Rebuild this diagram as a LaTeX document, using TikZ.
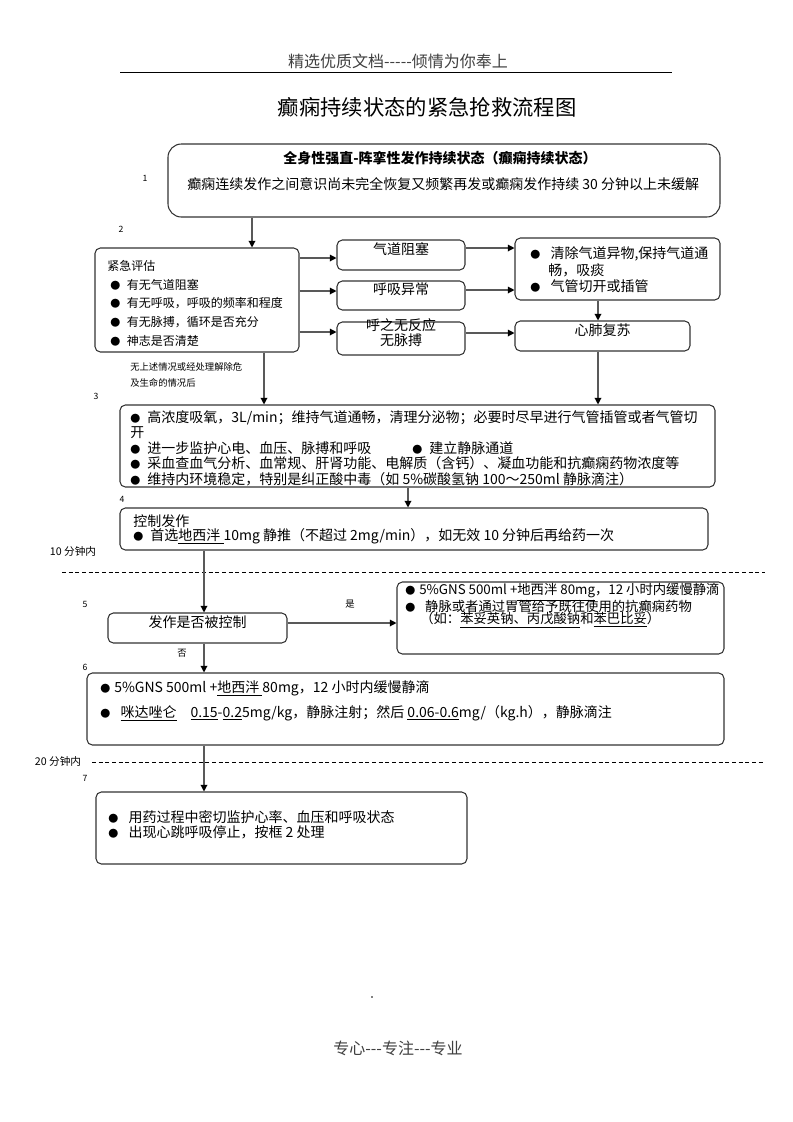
\documentclass[tikz,border=0pt]{standalone}
\usepackage{fontspec}
\setmainfont{Noto Sans CJK SC}
\usepackage{xcolor}
\usetikzlibrary{arrows.meta}
\usetikzlibrary{fit}
\newcommand\bul{{\fontsize{7.5}{8}\selectfont●}\hspace{3pt}}

\begin{document}
\begin{tikzpicture}[x=0.75pt,y=-0.75pt,
	box/.style={draw=black!80, line width=0.8pt, rounded corners=4pt, inner sep=0pt},
	arr/.style={draw=black!65, line width=0.9pt, -{Triangle[length=5pt,width=5pt,color=black]}},
	txt/.style={anchor=west, inner sep=0pt, font=\fontsize{10.5}{12}\selectfont},
	sm/.style={anchor=west, inner sep=0pt, font=\fontsize{9}{10}\selectfont},
	num/.style={inner sep=0pt, font=\fontsize{6.5}{7}\selectfont},
	tline/.style={draw=black, line width=0.6pt, dash pattern=on 3pt off 2pt}]
				\fill[white] (0,0) rectangle (793,1122);
				\useasboundingbox (0,0) rectangle (793,1122);
				\node[inner sep=0pt, text=black!75, font=\fontsize{12}{14}\selectfont] (A) at (398,61){精选优质文档-{}-{}-{}-{}-倾情为你奉上};
				\draw[black, line width=0.6pt] (120,72)--(672,72);
				\node[inner sep=0pt, font=\fontsize{16}{18}\selectfont] (B) at (427,107){癫痫持续状态的紧急抢救流程图};
				\node[box, rounded corners=10pt, fit={(168,144) (720,217)}] (b1){};
				\node[inner sep=0pt, font=\fontsize{10.5}{12}\selectfont\bfseries] (C) at (440,158){全身性强直-阵挛性发作持续状态（癫痫持续状态）};
				\node[txt] (D) at (187,184){癫痫连续发作之间意识尚未完全恢复又频繁再发或癫痫发作持续 30 分钟以上未缓解};
				\node[num] (n1) at (145,178){1};
				\node[num] (n2) at (121,229){2};
				\node[box, fit={(95,248) (299,352)}] (b2){};
				\node[sm] (E) at (107,266){紧急评估};
				\node[sm] (F) at (110,285){\bul\ 有无气道阻塞};
				\node[sm] (G) at (110,303){\bul\ 有无呼吸，呼吸的频率和程度};
				\node[sm] (H) at (110,322){\bul\ 有无脉搏，循环是否充分};
				\node[sm] (I) at (110,341){\bul\ 神志是否清楚};
				\node[box, fit={(337,240) (465,270)}, font=\fontsize{10.5}{12}\selectfont] (air){气道阻塞};
				\node[box, fit={(337,281) (465,310)}, font=\fontsize{10.5}{12}\selectfont] (breath){呼吸异常};
				\node[box, fit={(337,322) (465,355)}, align=center, font=\fontsize{10.5}{11}\selectfont] (resp){呼之无反应\\无脉搏};
				\node[box, fit={(515,238) (720,300)}] (clear){};
				\node[txt] (J) at (530,254){\bul\ \ 清除气道异物,保持气道通};
				\node[txt] (K) at (548,270){畅，吸痰};
				\node[txt] (L) at (530,286){\bul\ \ 气管切开或插管};
				\node[box, fit={(515,321) (690,351)}, font=\fontsize{10.5}{12}\selectfont] (cpr){心肺复苏};
				\node[num, anchor=west, font=\fontsize{7}{8}\selectfont] (M) at (130,367){无上述情况或经处理解除危};
				\node[num, anchor=west, font=\fontsize{7}{8}\selectfont] (N) at (130,383){及生命的情况后};
				\node[num] (n3) at (96,396){3};
				\node[box, fit={(120,405) (715,487)}] (b3){};
				\node[txt] (O) at (130,418){\bul\ 高浓度吸氧，3L/min；维持气道通畅，清理分泌物；必要时尽早进行气管插管或者气管切};
				\node[txt] (P) at (130,433){开};
				\node[txt] (Q) at (130,448){\bul\ 进一步监护心电、血压、脉搏和呼吸};
				\node[txt] (R) at (412,448){\bul\ 建立静脉通道};
				\node[txt] (S) at (130,463){\bul\ 采血查血气分析、血常规、肝肾功能、电解质（含钙）、凝血功能和抗癫痫药物浓度等};
				\node[txt] (T) at (130,479){\bul\ 维持内环境稳定，特别是纠正酸中毒（如 5\%碳酸氢钠 100～250ml 静脉滴注）};
				\node[num] (n4) at (122,499){4};
				\node[box, fit={(120,508) (708,550)}] (b4){};
				\node[txt] (U) at (133,521){控制发作};
				\node[txt] (V) at (133,536){\bul\ 首选\underline{地西泮 }10mg 静推（不超过 2mg/min），如无效 10 分钟后再给药一次};
				\node[num, font=\fontsize{8}{9}\selectfont] (W) at (73,551){10 分钟内};
				\draw[tline] (62,572)--(765,572);
				\node[num] (n5) at (85,604){5};
				\node[box, fit={(108,613) (287,643)}, font=\fontsize{10.5}{12}\selectfont] (b5){发作是否被控制};
				\node[num, font=\fontsize{7}{8}\selectfont] (X) at (350,604){是};
				\node[box, fit={(397,582) (724,654)}] (b5r){};
				\node[txt, font=\fontsize{10}{11}\selectfont] (Y) at (405,592){\bul 5\%GNS 500ml +\underline{地西泮 80mg}，12 小时内缓慢静滴};
				\node[txt, font=\fontsize{10}{11}\selectfont] (Z) at (405,606){\bul\ \ 静脉或者通过胃管给予既往使用的抗癫痫药物};
				\node[txt, font=\fontsize{10}{11}\selectfont] (a) at (420,620){（如：\underline{苯妥英钠、丙戊酸钠}和\underline{苯巴比妥}）};
				\node[num, fill=white, inner sep=1.5pt, font=\fontsize{7}{8}\selectfont] (c) at (182,653){否};
				\node[num] (n6) at (85,667){6};
				\node[box, fit={(87,673) (724,745)}] (b6){};
				\node[txt] (d) at (100,688){\bul 5\%GNS 500ml +\underline{地西泮 }80mg，12 小时内缓慢静滴};
				\node[txt] (e) at (100,713){\bul\ \ \underline{咪达唑仑}\quad \underline{0.15}-\underline{0.2}5mg/kg，静脉注射；然后 \underline{0.06-0.6}mg/（kg.h），静脉滴注};
				\node[num, font=\fontsize{8}{9}\selectfont] (f) at (58,761){20 分钟内};
				\draw[tline] (92,762)--(765,762);
				\node[num] (n7) at (85,778){7};
				\node[box, fit={(96,792) (467,864)}] (b7){};
				\node[txt] (g) at (108,817){\bul\ \ 用药过程中密切监护心率、血压和呼吸状态};
				\node[txt] (h) at (108,832){\bul\ \ 出现心跳呼吸停止，按框 2 处理};
				\fill[black] (372,997) circle (0.6pt);
				\node[inner sep=0pt, text=black!75, font=\fontsize{12}{14}\selectfont] (i) at (398,1048){专心-{}-{}-专注-{}-{}-专业};
				\draw[arr] (b1.south -| 252,0)--(b2.north -| 252,0);
				\draw[arr] (b2.east |- 0,258)--(air.west |- 0,258);
				\draw[arr] (b2.east |- 0,291)--(breath.west |- 0,291);
				\draw[arr] (b2.east |- 0,332)--(resp.west |- 0,332);
				\draw[arr] (air.east |- 0,248)--(clear.west |- 0,248);
				\draw[arr] (breath.east |- 0,290)--(clear.west |- 0,290);
				\draw[arr] (resp.east |- 0,333)--(cpr.west |- 0,333);
				\draw[arr] (clear.south -| 598,0)--(cpr.north -| 598,0);
				\draw[arr] (cpr.south -| 598,0)--(b3.north -| 598,0);
				\draw[arr] (b2.south -| 264,0)--(b3.north -| 264,0);
				\draw[arr] (b3.south -| 408,0)--(b4.north -| 408,0);
				\draw[arr] (b4.south -| 204,0)--(b5.north -| 204,0);
				\draw[arr] (b5.east |- 0,623)--(b5r.west |- 0,623);
				\draw[arr] (b5.south -| 204,0)--(b6.north -| 204,0);
				\draw[arr] (b6.south -| 204,0)--(b7.north -| 204,0);
			\end{tikzpicture}
\end{document}
